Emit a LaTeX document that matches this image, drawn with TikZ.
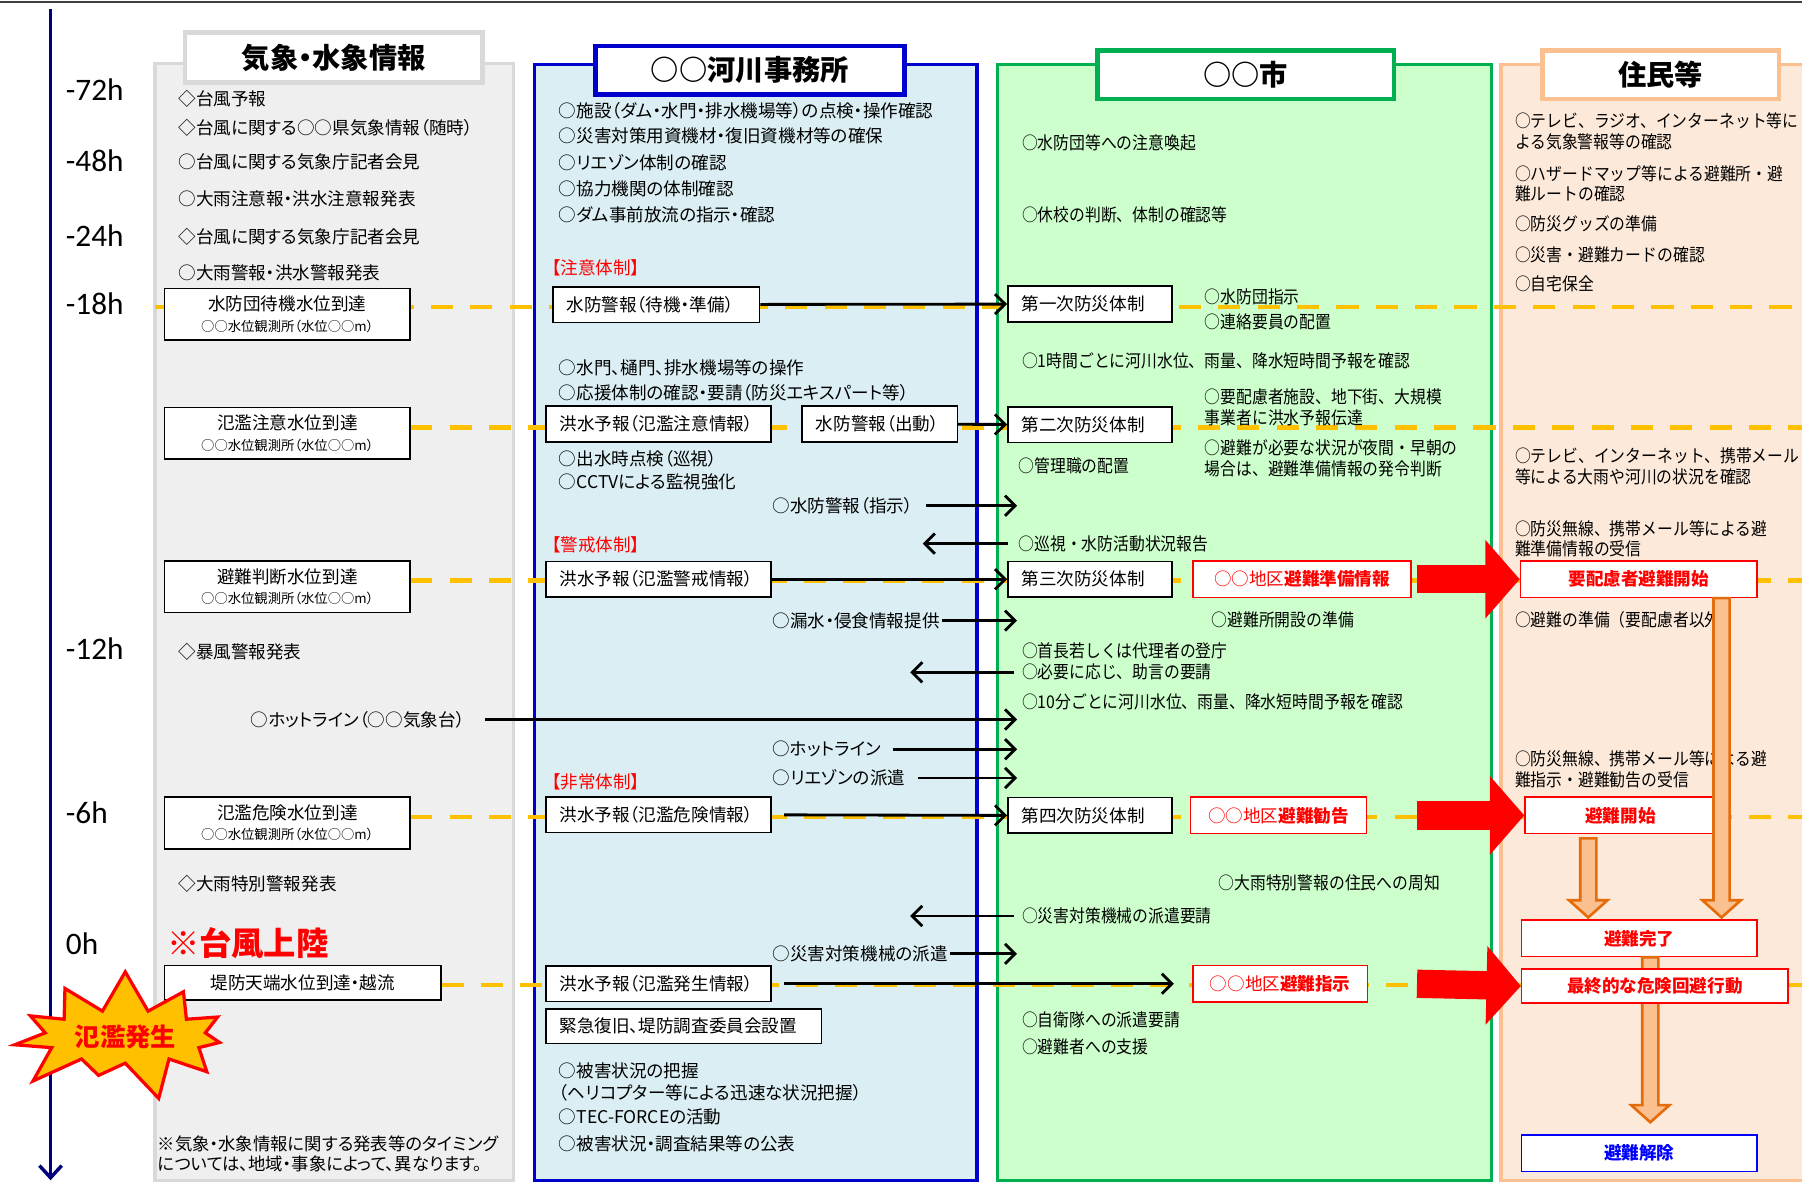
\documentclass[tikz,border=0pt]{standalone}
\usepackage{fontspec}
\setmainfont{Noto Sans CJK JP}[RawFeature=+palt]
\newfontfamily\condfont{Noto Sans CJK JP}[FakeStretch=0.9]
\newfontfamily\timefont{Carlito}
\usetikzlibrary{arrows.meta,calc,positioning,shapes.symbols}

\definecolor{grayP}{HTML}{EFEFEF}
\definecolor{grayB}{HTML}{D9D9D9}
\definecolor{blueP}{HTML}{DAEEF3}
\definecolor{blueB}{HTML}{0000CC}
\definecolor{greenP}{HTML}{CCFFCC}
\definecolor{greenB}{HTML}{00B050}
\definecolor{peachP}{HTML}{FDE9D9}
\definecolor{peachB}{HTML}{FAC090}
\definecolor{wlevel}{HTML}{FFC000}
\definecolor{orgD}{HTML}{E46C0A}
\definecolor{navyT}{HTML}{00007F}

\newcommand\bodysz{\fontsize{8.7}{10.2}\selectfont}
\newcommand\smallsz{\fontsize{6.6}{8}\selectfont}
\newcommand\titlesz{\fontsize{14}{16}\selectfont\bfseries}

\begin{document}
\begin{tikzpicture}[x=0.02cm, y=-0.02cm,
    txt/.style={anchor=west, inner sep=0, font=\bodysz, align=left},
    ctxt/.style={anchor=west, inner sep=0, font=\condfont\bodysz, align=left},
    stage/.style={anchor=west, inner sep=0, font=\bodysz, text=red},
    hour/.style={anchor=west, inner sep=0, font=\timefont\fontsize{15.5}{18}\selectfont},
    panel/.style={line width=1.7pt},
    title/.style={draw, fill=white, line width=2.3pt, minimum height=0.84cm, font=\titlesz},
    wlbox/.style={draw, fill=white, line width=0.8pt, minimum width=4.28cm, minimum height=0.9cm, inner sep=0, align=center, font=\bodysz},
    lbox/.style={draw, fill=white, line width=0.8pt, minimum height=0.62cm, inner xsep=0.24cm, inner ysep=0, align=left, font=\bodysz},
    alertbox/.style={draw=red, fill=white, line width=0.8pt, minimum height=0.63cm, inner sep=0, text=red, font=\bodysz},
    level/.style={wlevel, line width=2.3pt, dash pattern=on 11pt off 8.5pt},
    flow/.style={line width=1.4pt, -{Straight Barb[length=5pt,width=10pt]}},
    bigred/.style={red, line width=14pt, -{Triangle[length=17pt,width=38pt]}},
    blkarr/.style={draw=orgD, fill=peachB, line width=1.3pt,
      to path={let \p1=(\tikztostart), \p2=(\tikztotarget) in
        (\x1-4pt,\y1) -- (\x1+4pt,\y1) -- (\x1+4pt,\y2+8.5pt) -- (\x1+9.5pt,\y2+8.5pt)
        -- (\x1,\y2) -- (\x1-9.5pt,\y2+8.5pt) -- (\x1-4pt,\y2+8.5pt) -- cycle}},
    burst/.style={starburst, starburst points=11, starburst point height=0.72cm, random starburst=53,
      fill=wlevel, draw=red, line width=1.6pt, text=red, minimum width=3.8cm, minimum height=1.75cm,
      font=\fontsize{12.5}{14}\selectfont\bfseries}]

\useasboundingbox (0,0) rectangle (1568,1029);
\draw[black!75, line width=1.2pt] (0,1.5) -- (1568,1.5);

% time axis
\draw[navyT, line width=1.7pt, -{Straight Barb[length=6pt,width=11pt]}] (44,8) -- (44,1027);
\node[hour] (h72) at (57,78) {-72h};
\node[hour] (h48) at (57,140) {-48h};
\node[hour] (h24) at (57,205) {-24h};
\node[hour] (h18) at (57,264) {-18h};
\node[hour] (h12) at (57,564) {-12h};
\node[hour] (h6) at (57,707) {-6h};
\node[hour] (h0) at (57,821) {0h};

% columns
\filldraw[panel, fill=grayP, draw=grayB] (135,55) rectangle (447,1027);
\filldraw[panel, fill=blueP, draw=blueB] (465,56) rectangle (850,1027);
\filldraw[panel, fill=greenP, draw=greenB] (868,56) rectangle (1298,1027);
\filldraw[panel, fill=peachP, draw=peachB] (1306,56) rectangle (1600,1027);
\node[title, draw=grayB, minimum width=5.18cm, minimum height=0.88cm] (kt) at (290.5,50) {気象・水象情報};
\node[title, draw=blueB, minimum width=5.38cm] (jt) at (652.5,61) {○○河川事務所};
\node[title, draw=greenB, minimum width=5.16cm] (st) at (1084,65) {○○市};
\node[title, draw=peachB, minimum width=4.12cm] (rt) at (1445,65) {住民等};

% water level lines
\draw[level] (135,267) -- (1568,267);
\draw[level] (357,372) -- (1568,372);
\draw[level] (357,505) -- (1568,505);
\draw[level] (357,711) -- (1568,711);
\draw[level] (384,857) -- (1568,857);

% weather information
\node[txt] (k1) at (155,86) {◇台風予報};
\node[txt] (k2) at (155,111) {◇台風に関する○○県気象情報（随時）};
\node[txt] (k3) at (155,141) {○台風に関する気象庁記者会見};
\node[txt] (k4) at (155,173) {○大雨注意報・洪水注意報発表};
\node[txt] (k5) at (155,206) {◇台風に関する気象庁記者会見};
\node[txt] (k6) at (155,237) {○大雨警報・洪水警報発表};
\node[txt] (k7) at (155,567) {◇暴風警報発表};
\node[txt] (hl) at (218,626) {○ホットライン（○○気象台）};
\node[txt] (k8) at (155,769) {◇大雨特別警報発表};
\node[txt, text=red, font=\fontsize{16}{18}\selectfont\bfseries] (jr) at (145,821) {※台風上陸};
\node[txt, font=\fontsize{8.6}{9.8}\selectfont] (note) at (137,1004) {※気象・水象情報に関する発表等のタイミング\\については、地域・事象によって、異なります。};
\node[wlbox] (g1) at (250,273.5) {水防団待機水位到達\\{\smallsz ○○水位観測所（水位○○m）}};
\node[wlbox] (g2) at (250,377) {氾濫注意水位到達\\{\smallsz ○○水位観測所（水位○○m）}};
\node[wlbox] (g3) at (250,510.5) {避難判断水位到達\\{\smallsz ○○水位観測所（水位○○m）}};
\node[wlbox] (g4) at (250,716) {氾濫危険水位到達\\{\smallsz ○○水位観測所（水位○○m）}};
\node[wlbox, minimum width=4.82cm, minimum height=0.6cm] (g5) at (263.5,855) {堤防天端水位到達・越流};
\node[burst] (hs) at (109,902) {氾濫発生};

% river office
\node[txt] (j1) at (486,96) {○施設（ダム・水門・排水機場等）の点検・操作確認};
\node[txt] (j2) at (486,118) {○災害対策用資機材・復旧資機材等の確保};
\node[txt] (j3) at (486,142) {○リエゾン体制の確認};
\node[txt] (j4) at (486,164) {○協力機関の体制確認};
\node[txt] (j5) at (486,187) {○ダム事前放流の指示・確認};
\node[stage] (tc1) at (480,233) {【注意体制】};
\node[txt] (j6) at (486,320) {○水門、樋門、排水機場等の操作};
\node[txt] (j7) at (486,342) {○応援体制の確認・要請（防災エキスパート等）};
\node[txt] (j8) at (486,399) {○出水時点検（巡視）};
\node[txt] (j9) at (486,419) {○CCTVによる監視強化};
\node[txt] (sj) at (672,440) {○水防警報（指示）};
\node[stage] (tc2) at (480,474) {【警戒体制】};
\node[txt] (rs) at (672,540) {○漏水・侵食情報提供};
\node[txt] (ht) at (672,652) {○ホットライン};
\node[txt] (lz) at (672,677) {○リエゾンの派遣};
\node[stage] (tc3) at (480,680) {【非常体制】};
\node[txt] (kh) at (672,830) {○災害対策機械の派遣};
\node[txt] (j10) at (486,932) {○被害状況の把握};
\node[txt] (j11) at (486,951) {（ヘリコプター等による迅速な状況把握）};
\node[txt] (j12) at (486,972) {○TEC-FORCEの活動};
\node[txt] (j13) at (486,995) {○被害状況・調査結果等の公表};
\node[lbox, text width=3.12cm] (sk1) at (571,265) {水防警報（待機・準備）};
\node[lbox, text width=3.44cm] (kz1) at (573,369) {洪水予報（氾濫注意情報）};
\node[lbox, text width=2.22cm] (sk2) at (765.5,369) {水防警報（出動）};
\node[lbox, text width=3.44cm] (kz2) at (573,504) {洪水予報（氾濫警戒情報）};
\node[lbox, text width=3.44cm] (kz3) at (573,709) {洪水予報（氾濫危険情報）};
\node[lbox, text width=3.44cm] (kz4) at (573,856) {洪水予報（氾濫発生情報）};
\node[lbox, text width=4.32cm, minimum height=0.6cm] (fk) at (595,893) {緊急復旧、堤防調査委員会設置};

% city
\node[ctxt] (c1) at (889,124) {○水防団等への注意喚起};
\node[ctxt] (c2) at (889,187) {○休校の判断、体制の確認等};
\node[ctxt] (c3) at (1048,258) {○水防団指示};
\node[ctxt] (c4) at (1048,280) {○連絡要員の配置};
\node[ctxt] (c5) at (889,314) {○1時間ごとに河川水位、雨量、降水短時間予報を確認};
\node[ctxt] (c6) at (1048,354.5) {○要配慮者施設、地下街、大規模\\事業者に洪水予報伝達};
\node[ctxt] (c7) at (886,405) {○管理職の配置};
\node[ctxt] (c8) at (1048,399) {○避難が必要な状況が夜間・早朝の\\場合は、避難準備情報の発令判断};
\node[ctxt] (jh) at (886,473) {○巡視・水防活動状況報告};
\node[ctxt] (c9) at (1054,539) {○避難所開設の準備};
\node[ctxt] (c10) at (889,566) {○首長若しくは代理者の登庁};
\node[ctxt] (jg) at (889,585) {○必要に応じ、助言の要請};
\node[ctxt] (c11) at (889,611) {○10分ごとに河川水位、雨量、降水短時間予報を確認};
\node[ctxt] (c12) at (1060,768) {○大雨特別警報の住民への周知};
\node[ctxt] (ky) at (889,797) {○災害対策機械の派遣要請};
\node[ctxt] (c13) at (889,887) {○自衛隊への派遣要請};
\node[ctxt] (c14) at (889,911) {○避難者への支援};
\node[lbox, text width=2.38cm] (bs1) at (948.5,264.5) {第一次防災体制};
\node[lbox, text width=2.38cm] (bs2) at (948.5,369.5) {第二次防災体制};
\node[lbox, text width=2.38cm] (bs3) at (948.5,504) {第三次防災体制};
\node[lbox, text width=2.38cm] (bs4) at (948.5,709.5) {第四次防災体制};
\node[alertbox, minimum width=3.8cm] (r1) at (1133,504) {○○地区\textbf{避難準備情報}};
\node[alertbox, minimum width=3.06cm] (r2) at (1112.5,709.5) {○○地区\textbf{避難勧告}};
\node[alertbox, minimum width=3.04cm] (r3) at (1114,856) {○○地区\textbf{避難指示}};

% residents
\node[ctxt] (s1) at (1318,114.5) {○テレビ、ラジオ、インターネット等に\\よる気象警報等の確認};
\node[ctxt] (s2) at (1318,160) {○ハザードマップ等による避難所・避\\難ルートの確認};
\node[ctxt] (s3) at (1318,195) {○防災グッズの準備};
\node[ctxt] (s4) at (1318,222) {○災害・避難カードの確認};
\node[ctxt] (s5) at (1318,247) {○自宅保全};
\node[ctxt] (s6) at (1318,406) {○テレビ、インターネット、携帯メール\\等による大雨や河川の状況を確認};
\node[ctxt] (s7) at (1318,469) {○防災無線、携帯メール等による避\\難準備情報の受信};
\node[ctxt] (s8) at (1318,539) {○避難の準備（要配慮者以外）};
\node[ctxt] (s9) at (1318,669.5) {○防災無線、携帯メール等による避\\難指示・避難勧告の受信};
\node[alertbox, minimum width=4.12cm, font=\bodysz\bfseries] (y1) at (1426,504) {要配慮者避難開始};
\node[alertbox, minimum width=3.32cm, font=\bodysz\bfseries] (y2) at (1410,709.5) {避難開始};
\node[alertbox, minimum width=4.1cm, font=\bodysz\bfseries] (y3) at (1426.5,816.5) {避難完了};
\node[alertbox, draw=blue, text=blue, minimum width=4.1cm, font=\bodysz\bfseries] (y5) at (1426.5,1003.5) {避難解除};

% connectors
\coordinate (gin) at (885,0);
\coordinate (bout1) at (803,0);
\coordinate (bout2) at (792,0);
\coordinate (ra) at (1233,0);
\coordinate (ka) at (1498,0);
\coordinate (kb) at (1382,0);
\coordinate (kc) at (1436,0);
\draw[flow] (sk1) -- (bs1);
\draw[flow] (sk2) -- (bs2);
\draw[flow] (kz2) -- (bs3);
\draw[flow, shorten <=6pt] (kz3.east) -- (bs4.west);
\draw[flow, shorten <=6pt, shorten >=9pt] (kz4.east) -- (r3.west);
\draw[flow, shorten <=10pt] (hl.east) -- (hl.east -| gin);
\draw[flow, shorten <=6pt] (sj.east) -- (sj.east -| gin);
\draw[flow, shorten <=1pt] (rs.east) -- (rs.east -| gin);
\draw[flow, shorten <=6pt] (ht.east) -- (ht.east -| gin);
\draw[flow, shorten <=6pt] (lz.east) -- (lz.east -| gin);
\draw[flow, shorten <=1pt] (kh.east) -- (kh.east -| gin);
\draw[flow, shorten <=5pt] (jh.west) -- (jh.west -| bout1);
\draw[flow, shorten <=4pt] (jg.west) -- (jg.west -| bout2);
\draw[flow, shorten <=4pt] (ky.west) -- (ky.west -| bout2);
\draw[bigred] (r1.east -| ra) -- (y1.west);
\draw[bigred] (r2.east -| ra) -- (y2.west);
\draw[blkarr] (y1.south -| ka) to ([yshift=1pt]y3.north -| ka);
\draw[blkarr] ([yshift=-2pt]y2.south -| kb) to ([yshift=1pt]y3.north -| kb);
\draw[blkarr] (y3.south -| kc) to ([yshift=6pt]y5.north -| kc);
\node[alertbox, minimum width=4.64cm, minimum height=0.6cm, font=\bodysz\bfseries] (y4) at (1440,858) {最終的な危険回避行動};
\draw[bigred] (r3.east -| ra) -- (y4.west);
\end{tikzpicture}
\end{document}
